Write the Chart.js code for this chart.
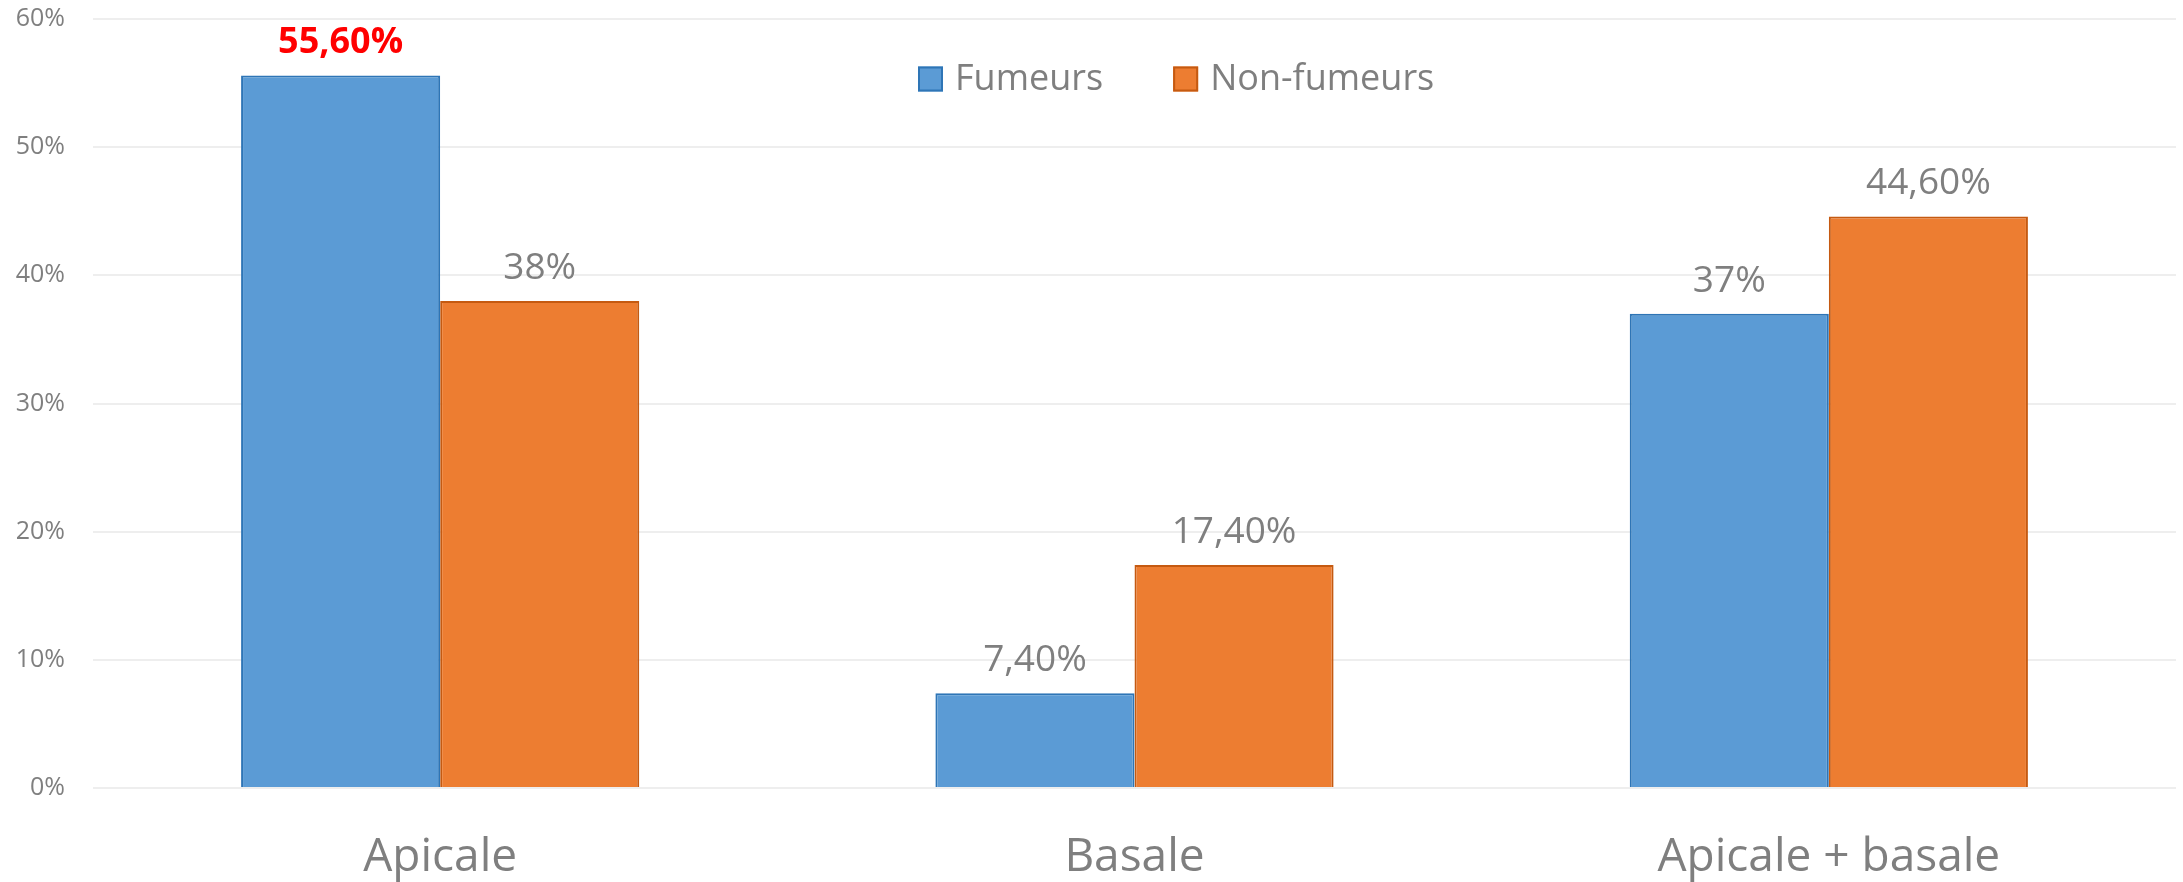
<!DOCTYPE html>
<html lang="fr">
<head>
<meta charset="utf-8">
<title>Fumeurs / Non-fumeurs</title>
<script src="https://cdn.jsdelivr.net/npm/chart.js@4.4.1/dist/chart.umd.min.js"></script>
<style>
    html, body { margin: 0; padding: 0; background: #fff; }
    .chart-wrap { width: 2183px; height: 882px; position: relative; }
</style>
</head>
<body>
<div class="chart-wrap"><canvas id="chart"></canvas></div>
<script>
const categories = ['Apicale', 'Basale', 'Apicale + basale'];
const seriesNames = ['Fumeurs', 'Non-fumeurs'];
const fumeurs = [55.6, 7.4, 37];
const nonFumeurs = [38, 17.4, 44.6];
const yTicks = [0, 10, 20, 30, 40, 50, 60];

// the one label shown in bold red: [dataset, index]
const highlighted = [[0, 0]];

const FONT = '"Open Sans", "Liberation Sans", sans-serif';
const GREY = '#7f7f7f';

function pct(v) {
    return Number.isInteger(v) ? `${v}%` : `${v.toFixed(2).replace('.', ',')}%`;
}

const valueLabels = {
    id: 'valueLabels',
    afterDatasetsDraw(chart) {
        const ctx = chart.ctx;
        ctx.save();
        ctx.textAlign = 'center';
        ctx.textBaseline = 'alphabetic';
        chart.data.datasets.forEach((ds, di) => {
            chart.getDatasetMeta(di).data.forEach((bar, i) => {
                const hot = highlighted.some(([d, j]) => d === di && j === i);
                ctx.fillStyle = hot ? '#ff0000' : GREY;
                ctx.font = `${hot ? 'bold ' : ''}${hot ? 36 : 37}px ${FONT}`;
                ctx.fillText(pct(ds.data[i]), bar.x, bar.y - 22);
            });
        });
        ctx.restore();
    },
};

const topLegend = {
    id: 'topLegend',
    afterDraw(chart) {
        const ctx = chart.ctx;
        const box = 25, gap = 12, spacing = 70;
        let x = 918;
        const y = 79;
        ctx.save();
        ctx.font = `36px ${FONT}`;
        ctx.textBaseline = 'middle';
        ctx.textAlign = 'left';
        chart.data.datasets.forEach(ds => {
            ctx.fillStyle = ds.backgroundColor;
            ctx.fillRect(x, y - box / 2, box, box);
            ctx.strokeStyle = ds.borderColor;
            ctx.lineWidth = 2;
            ctx.strokeRect(x + 1, y - box / 2 + 1, box - 2, box - 2);
            ctx.fillStyle = GREY;
            ctx.fillText(ds.label, x + box + gap, y + 1);
            x += box + gap + ctx.measureText(ds.label).width + spacing;
        });
        ctx.restore();
    },
};

new Chart(document.getElementById('chart'), {
    type: 'bar',
    data: {
        labels: categories,
        datasets: [
            {
                label: seriesNames[0],
                data: fumeurs,
                backgroundColor: '#5b9bd5',
                borderColor: '#2e75b6',
                borderWidth: 2,
            },
            {
                label: seriesNames[1],
                data: nonFumeurs,
                backgroundColor: '#ed7d31',
                borderColor: '#c55a11',
                borderWidth: 2,
            },
        ],
    },
    options: {
        responsive: true,
        maintainAspectRatio: false,
        animation: false,
        layout: { padding: { top: 19, right: 7, left: 0, bottom: 0 } },
        datasets: {
            bar: { categoryPercentage: 0.5735, barPercentage: 1 },
        },
        plugins: {
            legend: { display: false },
            tooltip: { enabled: false },
        },
        scales: {
            x: {
                grid: { display: false },
                border: { display: false },
                ticks: {
                    color: GREY,
                    font: { family: FONT, size: 46 },
                    padding: 34,
                },
                afterFit: s => { s.height = 94; },
            },
            y: {
                min: yTicks[0],
                max: yTicks[yTicks.length - 1],
                afterBuildTicks: s => { s.ticks = yTicks.map(v => ({ value: v })); },
                grid: { color: '#eeeeee', lineWidth: 2, drawTicks: false },
                border: { display: false },
                ticks: {
                    color: GREY,
                    font: { family: FONT, size: 25 },
                    padding: 28,
                    callback: v => `${v}%`,
                },
                afterFit: s => { s.width = 93; s.paddingTop = 0; },
            },
        },
    },
    plugins: [valueLabels, topLegend],
});
</script>
</body>
</html>
